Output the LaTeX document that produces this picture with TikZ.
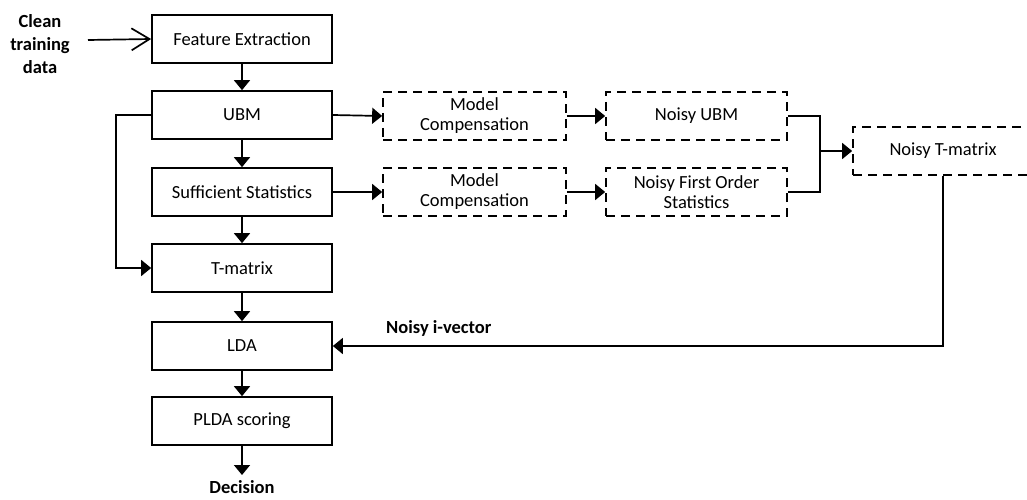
\documentclass[tikz,border=0pt]{standalone}
\usepackage{fontspec}
\setmainfont{Carlito}
\usetikzlibrary{arrows.meta}
\begin{document}
\begin{tikzpicture}[x=1pt,y=-1pt,
  box/.style={draw, line width=1.7pt, minimum width=180pt, minimum height=48pt, inner sep=0pt, align=center, font=\fontsize{18.5}{20}\selectfont},
  dbox/.style={box, dash pattern=on 9pt off 6pt},
  conn/.style={line width=1.7pt, -{Triangle[length=10pt,width=16pt]}},
  plain/.style={line width=1.7pt},
  lbl/.style={font=\bfseries\fontsize{18.5}{23}\selectfont, align=center, inner sep=0pt}]
\clip (0,0) rectangle (1027,500);
\useasboundingbox (0,0) rectangle (1027,500);
% main column
\node[box] (fe) at (242,39) {Feature Extraction};
\node[box] (ubm) at (242,115) {UBM};
\node[box] (ss) at (242,192) {Sufficient Statistics};
\node[box] (tm) at (242,268) {T-matrix};
\node[box] (lda) at (242,346) {LDA};
\node[box] (plda) at (242,421) {PLDA scoring};
% dashed branch
\node[dbox, minimum width=183pt] (mc1) at (474.5,116) {Model\\Compensation};
\node[dbox, minimum width=181pt] (nubm) at (696.5,116) {Noisy UBM};
\node[dbox, minimum width=183pt] (mc2) at (474.5,192) {Model\\Compensation};
\node[dbox, minimum width=181pt] (nfos) at (696.5,192) {Noisy First Order\\Statistics};
\node[dbox] (ntm) at (943,151) {Noisy T-matrix};
% labels
\node[lbl] (clean) at (40,44) {Clean\\training\\data};
\node[lbl] (dec) at (242,487.5) {Decision};
\node[lbl, anchor=west] (niv) at (386,328) {Noisy i-vector};
\coordinate (cin) at (88,40);
\coordinate (dout) at (242,475);
\coordinate (jx) at (820,151);
% connectors
\draw[line width=1.7pt, -{Straight Barb[length=18pt,width=22pt]}] (cin) -- (fe.west);
\draw[conn] (fe) -- (ubm);
\draw[conn] (ubm) -- (ss);
\draw[conn] (ss) -- (tm);
\draw[conn] (tm) -- (lda);
\draw[conn] (lda) -- (plda);
\draw[conn] (plda) -- (dout);
\draw[conn] (ubm.west) -- ++(-35,0) |- (tm.west);
\draw[conn] (ubm.east) -- (mc1.west);
\draw[conn] (ss.east) -- (mc2.west);
\draw[conn] (mc1.east) -- (nubm.west);
\draw[conn] (mc2.east) -- (nfos.west);
\draw[plain] (nubm.east) -| (jx);
\draw[plain] (nfos.east) -| (jx);
\draw[conn] (jx) -- (ntm.west);
\draw[conn] (ntm.south) |- (lda.east);
\end{tikzpicture}
\end{document}
